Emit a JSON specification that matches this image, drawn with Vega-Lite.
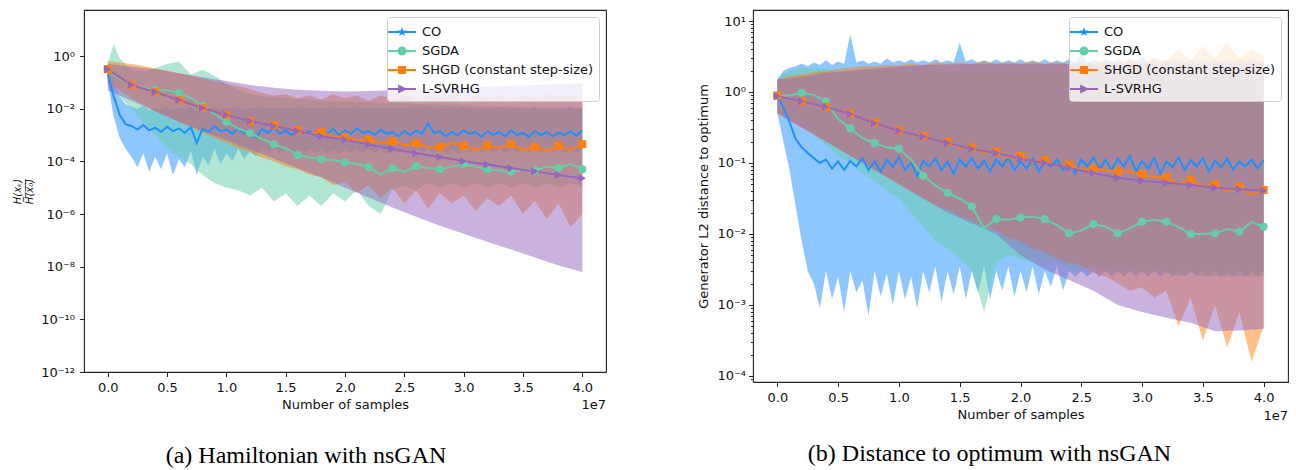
{
"$schema": "https://vega.github.io/schema/vega-lite/v6.json",
"background": "white",
"padding": {"left": 12, "top": 4, "right": 0, "bottom": 0},
"spacing": 90,
"columns": 2,
"align": "none",
"resolve": {"scale": {"color": "independent", "x": "independent", "y": "independent"}},
"config": {
  "font": "DejaVu Sans",
  "view": {"stroke": "#222", "strokeWidth": 1.1},
  "axis": {"grid": false, "domain": false, "tickColor": "#222", "tickSize": 4.5, "tickWidth": 1, "labelFont": "DejaVu Sans", "labelFontSize": 13, "labelColor": "#111", "titleFont": "DejaVu Sans", "titleFontSize": 13, "titleFontWeight": "normal", "titleColor": "#111", "labelFlush": false, "labelOverlap": false},
  "title": {"font": "Liberation Serif", "fontSize": 24, "fontWeight": "normal", "color": "#000", "orient": "bottom", "anchor": "middle", "offset": 25, "baseline": "top"}
},
"datasets": {
"A": [
{"s":"CO","x":0,"y":0.2,"lo":0.1,"hi":0.4},
{"s":"CO","x":0.05,"y":0.03,"lo":0.005,"hi":0.1},
{"s":"CO","x":0.1,"y":0.006,"lo":0.0008,"hi":0.03},
{"s":"CO","x":0.15,"y":0.0026,"lo":0.0003,"hi":0.015},
{"s":"CO","x":0.2,"y":0.0022,"lo":0.00015,"hi":0.012},
{"s":"CO","x":0.25,"y":0.0016,"lo":6e-5,"hi":0.01},
{"s":"CO","x":0.3,"y":0.0024,"lo":0.0002,"hi":0.013},
{"s":"CO","x":0.35,"y":0.0015,"lo":4e-5,"hi":0.009},
{"s":"CO","x":0.4,"y":0.0019,"lo":0.00015,"hi":0.011},
{"s":"CO","x":0.45,"y":0.0013,"lo":5e-5,"hi":0.01},
{"s":"CO","x":0.5,"y":0.0021,"lo":0.0002,"hi":0.012},
{"s":"CO","x":0.55,"y":0.0014,"lo":3e-5,"hi":0.009},
{"s":"CO","x":0.6,"y":0.0018,"lo":0.00012,"hi":0.011},
{"s":"CO","x":0.65,"y":0.0012,"lo":6e-5,"hi":0.01},
{"s":"CO","x":0.7,"y":0.002,"lo":0.00025,"hi":0.012},
{"s":"CO","x":0.75,"y":0.0005,"lo":3e-5,"hi":0.008},
{"s":"CO","x":0.8,"y":0.0017,"lo":0.00015,"hi":0.011},
{"s":"CO","x":0.85,"y":0.0013,"lo":7e-5,"hi":0.01},
{"s":"CO","x":0.9,"y":0.0022,"lo":0.0003,"hi":0.012},
{"s":"CO","x":0.95,"y":0.0014,"lo":8e-5,"hi":0.009},
{"s":"CO","x":1,"y":0.0016,"lo":0.0002,"hi":0.011},
{"s":"CO","x":1.05,"y":0.0011,"lo":0.0001,"hi":0.01},
{"s":"CO","x":1.1,"y":0.0019,"lo":0.0003,"hi":0.012},
{"s":"CO","x":1.15,"y":0.0012,"lo":0.00012,"hi":0.009},
{"s":"CO","x":1.2,"y":0.0015,"lo":0.00025,"hi":0.011},
{"s":"CO","x":1.25,"y":0.0008,"lo":0.00015,"hi":0.01},
{"s":"CO","x":1.3,"y":0.0017,"lo":0.0003,"hi":0.012},
{"s":"CO","x":1.35,"y":0.0012,"lo":0.0002,"hi":0.01},
{"s":"CO","x":1.4,"y":0.002,"lo":0.0003,"hi":0.011},
{"s":"CO","x":1.45,"y":0.0011,"lo":0.0002,"hi":0.01},
{"s":"CO","x":1.5,"y":0.0015,"lo":0.0003,"hi":0.011},
{"s":"CO","x":1.55,"y":0.001,"lo":0.0002,"hi":0.01},
{"s":"CO","x":1.6,"y":0.0018,"lo":0.0003,"hi":0.012},
{"s":"CO","x":1.65,"y":0.0012,"lo":0.0002,"hi":0.01},
{"s":"CO","x":1.7,"y":0.0014,"lo":0.0003,"hi":0.011},
{"s":"CO","x":1.75,"y":0.0009,"lo":0.0002,"hi":0.01},
{"s":"CO","x":1.8,"y":0.0016,"lo":0.0003,"hi":0.011},
{"s":"CO","x":1.85,"y":0.0011,"lo":0.0002,"hi":0.01},
{"s":"CO","x":1.9,"y":0.0017,"lo":0.0003,"hi":0.012},
{"s":"CO","x":1.95,"y":0.001,"lo":0.0002,"hi":0.01},
{"s":"CO","x":2,"y":0.0015,"lo":0.0003,"hi":0.011},
{"s":"CO","x":2.05,"y":0.0011,"lo":0.0002,"hi":0.01},
{"s":"CO","x":2.1,"y":0.0018,"lo":0.0003,"hi":0.012},
{"s":"CO","x":2.15,"y":0.0012,"lo":0.0002,"hi":0.01},
{"s":"CO","x":2.2,"y":0.0014,"lo":0.0003,"hi":0.011},
{"s":"CO","x":2.25,"y":0.001,"lo":0.0002,"hi":0.01},
{"s":"CO","x":2.3,"y":0.0016,"lo":0.0003,"hi":0.011},
{"s":"CO","x":2.35,"y":0.0011,"lo":0.0002,"hi":0.01},
{"s":"CO","x":2.4,"y":0.0013,"lo":0.0003,"hi":0.011},
{"s":"CO","x":2.45,"y":0.0009,"lo":0.0002,"hi":0.01},
{"s":"CO","x":2.5,"y":0.0014,"lo":0.0003,"hi":0.011},
{"s":"CO","x":2.55,"y":0.001,"lo":0.0002,"hi":0.01},
{"s":"CO","x":2.6,"y":0.0015,"lo":0.0003,"hi":0.012},
{"s":"CO","x":2.65,"y":0.0011,"lo":0.0002,"hi":0.01},
{"s":"CO","x":2.7,"y":0.0028,"lo":0.0003,"hi":0.013},
{"s":"CO","x":2.75,"y":0.0012,"lo":0.0002,"hi":0.01},
{"s":"CO","x":2.8,"y":0.0014,"lo":0.0003,"hi":0.011},
{"s":"CO","x":2.85,"y":0.0009,"lo":0.0002,"hi":0.01},
{"s":"CO","x":2.9,"y":0.0013,"lo":0.0003,"hi":0.011},
{"s":"CO","x":2.95,"y":0.001,"lo":0.0002,"hi":0.01},
{"s":"CO","x":3,"y":0.0015,"lo":0.0003,"hi":0.012},
{"s":"CO","x":3.05,"y":0.0011,"lo":0.0002,"hi":0.01},
{"s":"CO","x":3.1,"y":0.0013,"lo":0.0003,"hi":0.011},
{"s":"CO","x":3.15,"y":0.00085,"lo":0.0002,"hi":0.01},
{"s":"CO","x":3.2,"y":0.0014,"lo":0.0003,"hi":0.011},
{"s":"CO","x":3.25,"y":0.001,"lo":0.0002,"hi":0.01},
{"s":"CO","x":3.3,"y":0.0013,"lo":0.0003,"hi":0.012},
{"s":"CO","x":3.35,"y":0.0009,"lo":0.0002,"hi":0.01},
{"s":"CO","x":3.4,"y":0.0015,"lo":0.0003,"hi":0.011},
{"s":"CO","x":3.45,"y":0.001,"lo":0.0002,"hi":0.01},
{"s":"CO","x":3.5,"y":0.0012,"lo":0.0003,"hi":0.011},
{"s":"CO","x":3.55,"y":0.00085,"lo":0.0002,"hi":0.01},
{"s":"CO","x":3.6,"y":0.0014,"lo":0.0003,"hi":0.012},
{"s":"CO","x":3.65,"y":0.001,"lo":0.0002,"hi":0.01},
{"s":"CO","x":3.7,"y":0.0013,"lo":0.0003,"hi":0.011},
{"s":"CO","x":3.75,"y":0.0009,"lo":0.0002,"hi":0.01},
{"s":"CO","x":3.8,"y":0.0012,"lo":0.0003,"hi":0.011},
{"s":"CO","x":3.85,"y":0.001,"lo":0.0002,"hi":0.01},
{"s":"CO","x":3.9,"y":0.0014,"lo":0.0003,"hi":0.012},
{"s":"CO","x":3.95,"y":0.00095,"lo":0.0002,"hi":0.01},
{"s":"CO","x":4,"y":0.0015,"lo":0.0003,"hi":0.011},
{"s":"SGDA","x":0,"y":0.316,"lo":0.2,"hi":0.5,"mk":1},
{"s":"SGDA","x":0.05,"y":0.2,"lo":0.06,"hi":3.0},
{"s":"SGDA","x":0.1,"y":0.141,"lo":0.03,"hi":0.8},
{"s":"SGDA","x":0.2,"y":0.0794,"lo":0.01,"hi":0.3,"mk":1},
{"s":"SGDA","x":0.3,"y":0.0631,"lo":0.003,"hi":0.25},
{"s":"SGDA","x":0.4,"y":0.0501,"lo":0.001,"hi":0.35,"mk":1},
{"s":"SGDA","x":0.5,"y":0.0501,"lo":0.0003,"hi":0.5},
{"s":"SGDA","x":0.6,"y":0.0398,"lo":0.00015,"hi":0.6,"mk":1},
{"s":"SGDA","x":0.7,"y":0.0251,"lo":8e-5,"hi":0.2},
{"s":"SGDA","x":0.8,"y":0.0126,"lo":3e-5,"hi":0.3,"mk":1},
{"s":"SGDA","x":0.9,"y":0.00631,"lo":1.5e-5,"hi":0.18},
{"s":"SGDA","x":1,"y":0.00316,"lo":1e-5,"hi":0.09,"mk":1},
{"s":"SGDA","x":1.1,"y":0.00178,"lo":8e-6,"hi":0.05},
{"s":"SGDA","x":1.2,"y":0.00117,"lo":5e-6,"hi":0.035,"mk":1},
{"s":"SGDA","x":1.3,"y":0.000708,"lo":1e-5,"hi":0.03},
{"s":"SGDA","x":1.4,"y":0.000447,"lo":3e-6,"hi":0.028,"mk":1},
{"s":"SGDA","x":1.5,"y":0.000316,"lo":6e-6,"hi":0.026},
{"s":"SGDA","x":1.6,"y":0.000174,"lo":2e-6,"hi":0.024,"mk":1},
{"s":"SGDA","x":1.7,"y":0.000141,"lo":5e-6,"hi":0.022},
{"s":"SGDA","x":1.8,"y":0.00012,"lo":2e-6,"hi":0.02,"mk":1},
{"s":"SGDA","x":1.9,"y":0.000112,"lo":6e-6,"hi":0.02},
{"s":"SGDA","x":2,"y":9.3e-5,"lo":3e-6,"hi":0.019,"mk":1},
{"s":"SGDA","x":2.1,"y":7.9e-5,"lo":8e-6,"hi":0.018},
{"s":"SGDA","x":2.2,"y":6.0e-5,"lo":2e-6,"hi":0.018,"mk":1},
{"s":"SGDA","x":2.3,"y":3.2e-5,"lo":1e-6,"hi":0.017},
{"s":"SGDA","x":2.4,"y":5.5e-5,"lo":8e-6,"hi":0.016,"mk":1},
{"s":"SGDA","x":2.5,"y":4.0e-5,"lo":1.2e-5,"hi":0.016},
{"s":"SGDA","x":2.6,"y":6.6e-5,"lo":8e-6,"hi":0.015,"mk":1},
{"s":"SGDA","x":2.7,"y":5.6e-5,"lo":1.5e-5,"hi":0.015},
{"s":"SGDA","x":2.8,"y":5.0e-5,"lo":1e-5,"hi":0.014,"mk":1},
{"s":"SGDA","x":2.9,"y":6.3e-5,"lo":1.5e-5,"hi":0.014},
{"s":"SGDA","x":3,"y":7.9e-5,"lo":1e-5,"hi":0.013,"mk":1},
{"s":"SGDA","x":3.1,"y":6.3e-5,"lo":1.5e-5,"hi":0.013},
{"s":"SGDA","x":3.2,"y":5.0e-5,"lo":1e-5,"hi":0.012,"mk":1},
{"s":"SGDA","x":3.3,"y":4.5e-5,"lo":1.5e-5,"hi":0.012},
{"s":"SGDA","x":3.4,"y":4.0e-5,"lo":1e-5,"hi":0.012,"mk":1},
{"s":"SGDA","x":3.5,"y":5.0e-5,"lo":1.5e-5,"hi":0.011},
{"s":"SGDA","x":3.6,"y":4.5e-5,"lo":1e-5,"hi":0.011,"mk":1},
{"s":"SGDA","x":3.7,"y":6.3e-5,"lo":1.5e-5,"hi":0.011},
{"s":"SGDA","x":3.8,"y":5.6e-5,"lo":1e-5,"hi":0.01,"mk":1},
{"s":"SGDA","x":3.9,"y":7.9e-5,"lo":1.5e-5,"hi":0.01},
{"s":"SGDA","x":4,"y":5.0e-5,"lo":1e-5,"hi":0.01,"mk":1},
{"s":"SHGD (constant step-size)","x":0,"y":0.316,"lo":0.1,"hi":0.631,"mk":1},
{"s":"SHGD (constant step-size)","x":0.1,"y":0.158,"lo":0.0501,"hi":0.562},
{"s":"SHGD (constant step-size)","x":0.2,"y":0.0794,"lo":0.0251,"hi":0.501,"mk":1},
{"s":"SHGD (constant step-size)","x":0.3,"y":0.0562,"lo":0.0141,"hi":0.417},
{"s":"SHGD (constant step-size)","x":0.4,"y":0.0427,"lo":0.00794,"hi":0.347,"mk":1},
{"s":"SHGD (constant step-size)","x":0.5,"y":0.0302,"lo":0.00501,"hi":0.282},
{"s":"SHGD (constant step-size)","x":0.6,"y":0.0214,"lo":0.00316,"hi":0.224,"mk":1},
{"s":"SHGD (constant step-size)","x":0.7,"y":0.0151,"lo":0.002,"hi":0.178},
{"s":"SHGD (constant step-size)","x":0.8,"y":0.0105,"lo":0.00126,"hi":0.141,"mk":1},
{"s":"SHGD (constant step-size)","x":0.9,"y":0.00794,"lo":0.000794,"hi":0.112},
{"s":"SHGD (constant step-size)","x":1,"y":0.00575,"lo":0.000501,"hi":0.0891,"mk":1},
{"s":"SHGD (constant step-size)","x":1.1,"y":0.00447,"lo":0.000316,"hi":0.0708},
{"s":"SHGD (constant step-size)","x":1.2,"y":0.00339,"lo":0.000224,"hi":0.0562,"mk":1},
{"s":"SHGD (constant step-size)","x":1.3,"y":0.00282,"lo":0.000141,"hi":0.0398},
{"s":"SHGD (constant step-size)","x":1.4,"y":0.0024,"lo":0.0001,"hi":0.0316,"mk":1},
{"s":"SHGD (constant step-size)","x":1.5,"y":0.00178,"lo":6.31e-5,"hi":0.0355},
{"s":"SHGD (constant step-size)","x":1.6,"y":0.00155,"lo":5.01e-5,"hi":0.0251,"mk":1},
{"s":"SHGD (constant step-size)","x":1.7,"y":0.00112,"lo":3.16e-5,"hi":0.0316},
{"s":"SHGD (constant step-size)","x":1.8,"y":0.00129,"lo":2.51e-5,"hi":0.0224,"mk":1},
{"s":"SHGD (constant step-size)","x":1.9,"y":0.00089,"lo":1.26e-5,"hi":0.0355},
{"s":"SHGD (constant step-size)","x":2,"y":0.00083,"lo":1.58e-5,"hi":0.0251,"mk":1},
{"s":"SHGD (constant step-size)","x":2.1,"y":0.00063,"lo":6.31e-6,"hi":0.0316},
{"s":"SHGD (constant step-size)","x":2.2,"y":0.00065,"lo":1.26e-5,"hi":0.02,"mk":1},
{"s":"SHGD (constant step-size)","x":2.3,"y":0.0005,"lo":3.98e-6,"hi":0.0316},
{"s":"SHGD (constant step-size)","x":2.4,"y":0.00059,"lo":1e-5,"hi":0.0251,"mk":1},
{"s":"SHGD (constant step-size)","x":2.5,"y":0.0004,"lo":2.51e-6,"hi":0.0355},
{"s":"SHGD (constant step-size)","x":2.6,"y":0.00049,"lo":7.94e-6,"hi":0.0224,"mk":1},
{"s":"SHGD (constant step-size)","x":2.7,"y":0.00035,"lo":1.58e-6,"hi":0.0316},
{"s":"SHGD (constant step-size)","x":2.8,"y":0.00035,"lo":6.31e-6,"hi":0.0251,"mk":1},
{"s":"SHGD (constant step-size)","x":2.9,"y":0.0005,"lo":2.51e-6,"hi":0.0355},
{"s":"SHGD (constant step-size)","x":3,"y":0.0004,"lo":5.01e-6,"hi":0.02,"mk":1},
{"s":"SHGD (constant step-size)","x":3.1,"y":0.00028,"lo":1.26e-6,"hi":0.0316},
{"s":"SHGD (constant step-size)","x":3.2,"y":0.0004,"lo":3.98e-6,"hi":0.0251,"mk":1},
{"s":"SHGD (constant step-size)","x":3.3,"y":0.00032,"lo":2e-6,"hi":0.0355},
{"s":"SHGD (constant step-size)","x":3.4,"y":0.00045,"lo":5.01e-6,"hi":0.0224,"mk":1},
{"s":"SHGD (constant step-size)","x":3.5,"y":0.00028,"lo":1e-6,"hi":0.0316},
{"s":"SHGD (constant step-size)","x":3.6,"y":0.00035,"lo":3.16e-6,"hi":0.0251,"mk":1},
{"s":"SHGD (constant step-size)","x":3.7,"y":0.00025,"lo":6.31e-7,"hi":0.0355},
{"s":"SHGD (constant step-size)","x":3.8,"y":0.0004,"lo":2.51e-6,"hi":0.0282,"mk":1},
{"s":"SHGD (constant step-size)","x":3.9,"y":0.00028,"lo":3.16e-7,"hi":0.0316},
{"s":"SHGD (constant step-size)","x":4,"y":0.00045,"lo":1e-6,"hi":0.0251,"mk":1},
{"s":"L-SVRHG","x":0,"y":0.316,"lo":0.0501,"hi":0.5,"mk":1},
{"s":"L-SVRHG","x":0.2,"y":0.0794,"lo":0.02,"hi":0.398,"mk":1},
{"s":"L-SVRHG","x":0.4,"y":0.0427,"lo":0.00794,"hi":0.316,"mk":1},
{"s":"L-SVRHG","x":0.6,"y":0.0214,"lo":0.00316,"hi":0.224,"mk":1},
{"s":"L-SVRHG","x":0.8,"y":0.0105,"lo":0.00141,"hi":0.158,"mk":1},
{"s":"L-SVRHG","x":1,"y":0.00575,"lo":0.000631,"hi":0.112,"mk":1},
{"s":"L-SVRHG","x":1.2,"y":0.00339,"lo":0.000282,"hi":0.0794,"mk":1},
{"s":"L-SVRHG","x":1.4,"y":0.00219,"lo":0.000126,"hi":0.0631,"mk":1},
{"s":"L-SVRHG","x":1.6,"y":0.00141,"lo":5.62e-5,"hi":0.0525,"mk":1},
{"s":"L-SVRHG","x":1.8,"y":0.00089,"lo":2.51e-5,"hi":0.0479,"mk":1},
{"s":"L-SVRHG","x":2,"y":0.00066,"lo":1e-5,"hi":0.0447,"mk":1},
{"s":"L-SVRHG","x":2.2,"y":0.000437,"lo":4.27e-6,"hi":0.0468,"mk":1},
{"s":"L-SVRHG","x":2.4,"y":0.000295,"lo":1.78e-6,"hi":0.0501,"mk":1},
{"s":"L-SVRHG","x":2.6,"y":0.000204,"lo":7.94e-7,"hi":0.0537,"mk":1},
{"s":"L-SVRHG","x":2.8,"y":0.000145,"lo":3.55e-7,"hi":0.0575,"mk":1},
{"s":"L-SVRHG","x":3,"y":0.000102,"lo":1.78e-7,"hi":0.0631,"mk":1},
{"s":"L-SVRHG","x":3.2,"y":7.6e-5,"lo":8.91e-8,"hi":0.0676,"mk":1},
{"s":"L-SVRHG","x":3.4,"y":5.5e-5,"lo":4.47e-8,"hi":0.0741,"mk":1},
{"s":"L-SVRHG","x":3.6,"y":4.2e-5,"lo":2.24e-8,"hi":0.0794,"mk":1},
{"s":"L-SVRHG","x":3.8,"y":3.0e-5,"lo":1.12e-8,"hi":0.0851,"mk":1},
{"s":"L-SVRHG","x":4,"y":2.3e-5,"lo":6.31e-9,"hi":0.0933,"mk":1}
],
"B": [
{"s":"CO","x":0,"y":0.891,"lo":0.5,"hi":1.5},
{"s":"CO","x":0.05,"y":0.603,"lo":0.2,"hi":2.0},
{"s":"CO","x":0.1,"y":0.38,"lo":0.08,"hi":2.2},
{"s":"CO","x":0.15,"y":0.219,"lo":0.025,"hi":2.3},
{"s":"CO","x":0.2,"y":0.166,"lo":0.008,"hi":2.5},
{"s":"CO","x":0.25,"y":0.138,"lo":0.003,"hi":2.3},
{"s":"CO","x":0.3,"y":0.117,"lo":0.002,"hi":2.6},
{"s":"CO","x":0.35,"y":0.1,"lo":0.0009,"hi":2.4},
{"s":"CO","x":0.4,"y":0.112,"lo":0.003,"hi":2.8},
{"s":"CO","x":0.45,"y":0.0832,"lo":0.0012,"hi":2.4},
{"s":"CO","x":0.5,"y":0.105,"lo":0.0025,"hi":2.7},
{"s":"CO","x":0.55,"y":0.0794,"lo":0.0008,"hi":2.5},
{"s":"CO","x":0.6,"y":0.107,"lo":0.003,"hi":6.5},
{"s":"CO","x":0.65,"y":0.0891,"lo":0.0015,"hi":2.6},
{"s":"CO","x":0.7,"y":0.117,"lo":0.0022,"hi":2.8},
{"s":"CO","x":0.75,"y":0.0794,"lo":0.0007,"hi":2.5},
{"s":"CO","x":0.8,"y":0.105,"lo":0.003,"hi":2.7},
{"s":"CO","x":0.85,"y":0.0759,"lo":0.0013,"hi":2.5},
{"s":"CO","x":0.9,"y":0.11,"lo":0.0028,"hi":3.0},
{"s":"CO","x":0.95,"y":0.0891,"lo":0.001,"hi":2.6},
{"s":"CO","x":1,"y":0.12,"lo":0.003,"hi":2.8},
{"s":"CO","x":1.05,"y":0.0794,"lo":0.0012,"hi":2.6},
{"s":"CO","x":1.1,"y":0.1,"lo":0.0025,"hi":2.9},
{"s":"CO","x":1.15,"y":0.0661,"lo":0.0009,"hi":2.6},
{"s":"CO","x":1.2,"y":0.107,"lo":0.003,"hi":2.8},
{"s":"CO","x":1.25,"y":0.0891,"lo":0.0015,"hi":2.6},
{"s":"CO","x":1.3,"y":0.115,"lo":0.0035,"hi":2.9},
{"s":"CO","x":1.35,"y":0.0794,"lo":0.0011,"hi":2.6},
{"s":"CO","x":1.4,"y":0.105,"lo":0.003,"hi":2.8},
{"s":"CO","x":1.45,"y":0.0708,"lo":0.0014,"hi":2.6},
{"s":"CO","x":1.5,"y":0.112,"lo":0.0035,"hi":5.0},
{"s":"CO","x":1.55,"y":0.0891,"lo":0.0012,"hi":2.7},
{"s":"CO","x":1.6,"y":0.117,"lo":0.003,"hi":2.9},
{"s":"CO","x":1.65,"y":0.0832,"lo":0.0015,"hi":2.6},
{"s":"CO","x":1.7,"y":0.107,"lo":0.0035,"hi":2.8},
{"s":"CO","x":1.75,"y":0.0759,"lo":0.0012,"hi":2.6},
{"s":"CO","x":1.8,"y":0.112,"lo":0.003,"hi":2.9},
{"s":"CO","x":1.85,"y":0.0891,"lo":0.0016,"hi":2.6},
{"s":"CO","x":1.9,"y":0.12,"lo":0.0035,"hi":2.8},
{"s":"CO","x":1.95,"y":0.0794,"lo":0.0013,"hi":2.6},
{"s":"CO","x":2,"y":0.105,"lo":0.003,"hi":2.9},
{"s":"CO","x":2.05,"y":0.0832,"lo":0.0015,"hi":2.6},
{"s":"CO","x":2.1,"y":0.115,"lo":0.0035,"hi":2.8},
{"s":"CO","x":2.15,"y":0.0759,"lo":0.0014,"hi":2.6},
{"s":"CO","x":2.2,"y":0.107,"lo":0.003,"hi":2.9},
{"s":"CO","x":2.25,"y":0.0891,"lo":0.0018,"hi":2.6},
{"s":"CO","x":2.3,"y":0.112,"lo":0.0035,"hi":2.8},
{"s":"CO","x":2.35,"y":0.0794,"lo":0.0016,"hi":2.6},
{"s":"CO","x":2.4,"y":0.107,"lo":0.003,"hi":2.9},
{"s":"CO","x":2.45,"y":0.0708,"lo":0.0025,"hi":2.6},
{"s":"CO","x":2.5,"y":0.112,"lo":0.003,"hi":3.5},
{"s":"CO","x":2.55,"y":0.0891,"lo":0.0025,"hi":2.6},
{"s":"CO","x":2.6,"y":0.12,"lo":0.003,"hi":2.9},
{"s":"CO","x":2.65,"y":0.0832,"lo":0.0025,"hi":2.6},
{"s":"CO","x":2.7,"y":0.11,"lo":0.003,"hi":2.9},
{"s":"CO","x":2.75,"y":0.0794,"lo":0.0025,"hi":2.6},
{"s":"CO","x":2.8,"y":0.115,"lo":0.003,"hi":2.9},
{"s":"CO","x":2.85,"y":0.0891,"lo":0.0025,"hi":2.6},
{"s":"CO","x":2.9,"y":0.126,"lo":0.003,"hi":2.9},
{"s":"CO","x":2.95,"y":0.0759,"lo":0.0025,"hi":2.6},
{"s":"CO","x":3,"y":0.107,"lo":0.003,"hi":3.2},
{"s":"CO","x":3.05,"y":0.0832,"lo":0.0025,"hi":2.6},
{"s":"CO","x":3.1,"y":0.117,"lo":0.003,"hi":2.9},
{"s":"CO","x":3.15,"y":0.0708,"lo":0.0025,"hi":2.6},
{"s":"CO","x":3.2,"y":0.105,"lo":0.003,"hi":2.9},
{"s":"CO","x":3.25,"y":0.0871,"lo":0.0025,"hi":2.6},
{"s":"CO","x":3.3,"y":0.12,"lo":0.003,"hi":2.9},
{"s":"CO","x":3.35,"y":0.0794,"lo":0.0025,"hi":2.6},
{"s":"CO","x":3.4,"y":0.11,"lo":0.003,"hi":2.9},
{"s":"CO","x":3.45,"y":0.0891,"lo":0.0025,"hi":2.6},
{"s":"CO","x":3.5,"y":0.117,"lo":0.003,"hi":2.9},
{"s":"CO","x":3.55,"y":0.0759,"lo":0.0025,"hi":2.6},
{"s":"CO","x":3.6,"y":0.107,"lo":0.003,"hi":2.9},
{"s":"CO","x":3.65,"y":0.0871,"lo":0.0025,"hi":2.6},
{"s":"CO","x":3.7,"y":0.115,"lo":0.003,"hi":2.9},
{"s":"CO","x":3.75,"y":0.0794,"lo":0.0025,"hi":2.6},
{"s":"CO","x":3.8,"y":0.105,"lo":0.003,"hi":2.9},
{"s":"CO","x":3.85,"y":0.0891,"lo":0.0025,"hi":2.6},
{"s":"CO","x":3.9,"y":0.112,"lo":0.003,"hi":2.9},
{"s":"CO","x":3.95,"y":0.0832,"lo":0.0025,"hi":2.6},
{"s":"CO","x":4,"y":0.11,"lo":0.003,"hi":2.8},
{"s":"SGDA","x":0,"y":0.891,"lo":0.5,"hi":1.6,"mk":1},
{"s":"SGDA","x":0.1,"y":0.891,"lo":0.447,"hi":2.0},
{"s":"SGDA","x":0.2,"y":0.977,"lo":0.355,"hi":2.2,"mk":1},
{"s":"SGDA","x":0.3,"y":0.912,"lo":0.251,"hi":2.2},
{"s":"SGDA","x":0.4,"y":0.741,"lo":0.178,"hi":2.1,"mk":1},
{"s":"SGDA","x":0.5,"y":0.417,"lo":0.126,"hi":2.0},
{"s":"SGDA","x":0.6,"y":0.309,"lo":0.1,"hi":2.0,"mk":1},
{"s":"SGDA","x":0.7,"y":0.224,"lo":0.0708,"hi":2.0},
{"s":"SGDA","x":0.8,"y":0.191,"lo":0.0562,"hi":2.0,"mk":1},
{"s":"SGDA","x":0.9,"y":0.166,"lo":0.0398,"hi":2.0},
{"s":"SGDA","x":1,"y":0.158,"lo":0.0316,"hi":2.0,"mk":1},
{"s":"SGDA","x":1.1,"y":0.112,"lo":0.02,"hi":2.0},
{"s":"SGDA","x":1.2,"y":0.0661,"lo":0.0126,"hi":2.0,"mk":1},
{"s":"SGDA","x":1.3,"y":0.0479,"lo":0.00794,"hi":2.0},
{"s":"SGDA","x":1.4,"y":0.038,"lo":0.00631,"hi":2.0,"mk":1},
{"s":"SGDA","x":1.5,"y":0.0316,"lo":0.00447,"hi":2.0},
{"s":"SGDA","x":1.6,"y":0.0245,"lo":0.00316,"hi":2.0,"mk":1},
{"s":"SGDA","x":1.7,"y":0.012,"lo":0.000794,"hi":2.0},
{"s":"SGDA","x":1.8,"y":0.0162,"lo":0.00398,"hi":2.0,"mk":1},
{"s":"SGDA","x":1.9,"y":0.0158,"lo":0.00501,"hi":2.0},
{"s":"SGDA","x":2,"y":0.017,"lo":0.00447,"hi":2.0,"mk":1},
{"s":"SGDA","x":2.1,"y":0.0174,"lo":0.00398,"hi":2.0},
{"s":"SGDA","x":2.2,"y":0.0162,"lo":0.00355,"hi":2.0,"mk":1},
{"s":"SGDA","x":2.3,"y":0.0132,"lo":0.00398,"hi":2.0},
{"s":"SGDA","x":2.4,"y":0.0102,"lo":0.00316,"hi":2.0,"mk":1},
{"s":"SGDA","x":2.5,"y":0.0112,"lo":0.00316,"hi":2.0},
{"s":"SGDA","x":2.6,"y":0.0138,"lo":0.00355,"hi":2.0,"mk":1},
{"s":"SGDA","x":2.7,"y":0.0126,"lo":0.00316,"hi":2.0},
{"s":"SGDA","x":2.8,"y":0.0102,"lo":0.00282,"hi":2.0,"mk":1},
{"s":"SGDA","x":2.9,"y":0.012,"lo":0.00316,"hi":2.0},
{"s":"SGDA","x":3,"y":0.0148,"lo":0.00282,"hi":2.0,"mk":1},
{"s":"SGDA","x":3.1,"y":0.0158,"lo":0.00316,"hi":2.0},
{"s":"SGDA","x":3.2,"y":0.0148,"lo":0.00282,"hi":2.0,"mk":1},
{"s":"SGDA","x":3.3,"y":0.0126,"lo":0.00251,"hi":2.0},
{"s":"SGDA","x":3.4,"y":0.01,"lo":0.00282,"hi":2.0,"mk":1},
{"s":"SGDA","x":3.5,"y":0.01,"lo":0.00251,"hi":2.0},
{"s":"SGDA","x":3.6,"y":0.0102,"lo":0.00251,"hi":2.0,"mk":1},
{"s":"SGDA","x":3.7,"y":0.0117,"lo":0.00251,"hi":2.0},
{"s":"SGDA","x":3.8,"y":0.0107,"lo":0.00251,"hi":2.0,"mk":1},
{"s":"SGDA","x":3.9,"y":0.0148,"lo":0.00251,"hi":2.0},
{"s":"SGDA","x":4,"y":0.0126,"lo":0.00251,"hi":2.0,"mk":1},
{"s":"SHGD (constant step-size)","x":0,"y":0.891,"lo":0.5,"hi":1.5,"mk":1},
{"s":"SHGD (constant step-size)","x":0.1,"y":0.794,"lo":0.398,"hi":1.7},
{"s":"SHGD (constant step-size)","x":0.2,"y":0.741,"lo":0.316,"hi":1.8,"mk":1},
{"s":"SHGD (constant step-size)","x":0.3,"y":0.676,"lo":0.251,"hi":1.9},
{"s":"SHGD (constant step-size)","x":0.4,"y":0.617,"lo":0.2,"hi":2.0,"mk":1},
{"s":"SHGD (constant step-size)","x":0.5,"y":0.55,"lo":0.158,"hi":2.1},
{"s":"SHGD (constant step-size)","x":0.6,"y":0.501,"lo":0.126,"hi":2.2,"mk":1},
{"s":"SHGD (constant step-size)","x":0.7,"y":0.417,"lo":0.1,"hi":2.3},
{"s":"SHGD (constant step-size)","x":0.8,"y":0.372,"lo":0.0794,"hi":2.3,"mk":1},
{"s":"SHGD (constant step-size)","x":0.9,"y":0.316,"lo":0.0631,"hi":2.4},
{"s":"SHGD (constant step-size)","x":1,"y":0.288,"lo":0.0501,"hi":2.4,"mk":1},
{"s":"SHGD (constant step-size)","x":1.1,"y":0.251,"lo":0.0398,"hi":2.5},
{"s":"SHGD (constant step-size)","x":1.2,"y":0.24,"lo":0.0316,"hi":2.4,"mk":1},
{"s":"SHGD (constant step-size)","x":1.3,"y":0.209,"lo":0.0251,"hi":2.6},
{"s":"SHGD (constant step-size)","x":1.4,"y":0.2,"lo":0.0224,"hi":2.5,"mk":1},
{"s":"SHGD (constant step-size)","x":1.5,"y":0.166,"lo":0.0178,"hi":2.6},
{"s":"SHGD (constant step-size)","x":1.6,"y":0.166,"lo":0.0158,"hi":2.5,"mk":1},
{"s":"SHGD (constant step-size)","x":1.7,"y":0.141,"lo":0.0126,"hi":2.7},
{"s":"SHGD (constant step-size)","x":1.8,"y":0.145,"lo":0.0112,"hi":2.5,"mk":1},
{"s":"SHGD (constant step-size)","x":1.9,"y":0.12,"lo":0.00891,"hi":2.6},
{"s":"SHGD (constant step-size)","x":2,"y":0.126,"lo":0.00794,"hi":2.5,"mk":1},
{"s":"SHGD (constant step-size)","x":2.1,"y":0.105,"lo":0.00631,"hi":2.7},
{"s":"SHGD (constant step-size)","x":2.2,"y":0.11,"lo":0.00562,"hi":2.5,"mk":1},
{"s":"SHGD (constant step-size)","x":2.3,"y":0.0891,"lo":0.00447,"hi":2.6},
{"s":"SHGD (constant step-size)","x":2.4,"y":0.0955,"lo":0.00398,"hi":2.5,"mk":1},
{"s":"SHGD (constant step-size)","x":2.5,"y":0.0794,"lo":0.00355,"hi":2.7},
{"s":"SHGD (constant step-size)","x":2.6,"y":0.0832,"lo":0.00282,"hi":2.5,"mk":1},
{"s":"SHGD (constant step-size)","x":2.7,"y":0.0794,"lo":0.00251,"hi":2.8},
{"s":"SHGD (constant step-size)","x":2.8,"y":0.0759,"lo":0.002,"hi":2.6,"mk":1},
{"s":"SHGD (constant step-size)","x":2.9,"y":0.0759,"lo":0.00158,"hi":2.9},
{"s":"SHGD (constant step-size)","x":3,"y":0.0692,"lo":0.00178,"hi":2.6,"mk":1},
{"s":"SHGD (constant step-size)","x":3.1,"y":0.0631,"lo":0.00126,"hi":3.0},
{"s":"SHGD (constant step-size)","x":3.2,"y":0.0631,"lo":0.00158,"hi":2.7,"mk":1},
{"s":"SHGD (constant step-size)","x":3.3,"y":0.0501,"lo":0.000501,"hi":4.0},
{"s":"SHGD (constant step-size)","x":3.4,"y":0.0575,"lo":0.00126,"hi":2.8,"mk":1},
{"s":"SHGD (constant step-size)","x":3.5,"y":0.0468,"lo":0.000316,"hi":4.5},
{"s":"SHGD (constant step-size)","x":3.6,"y":0.0501,"lo":0.001,"hi":3.0,"mk":1},
{"s":"SHGD (constant step-size)","x":3.7,"y":0.0398,"lo":0.000251,"hi":5.0},
{"s":"SHGD (constant step-size)","x":3.8,"y":0.0468,"lo":0.000794,"hi":3.0,"mk":1},
{"s":"SHGD (constant step-size)","x":3.9,"y":0.0355,"lo":0.000158,"hi":4.0},
{"s":"SHGD (constant step-size)","x":4,"y":0.0417,"lo":0.000501,"hi":3.2,"mk":1},
{"s":"L-SVRHG","x":0,"y":0.871,"lo":0.5,"hi":1.5,"mk":1},
{"s":"L-SVRHG","x":0.2,"y":0.741,"lo":0.316,"hi":1.66,"mk":1},
{"s":"L-SVRHG","x":0.4,"y":0.617,"lo":0.2,"hi":1.86,"mk":1},
{"s":"L-SVRHG","x":0.6,"y":0.49,"lo":0.126,"hi":2.0,"mk":1},
{"s":"L-SVRHG","x":0.8,"y":0.363,"lo":0.0794,"hi":2.14,"mk":1},
{"s":"L-SVRHG","x":1,"y":0.282,"lo":0.0501,"hi":2.29,"mk":1},
{"s":"L-SVRHG","x":1.2,"y":0.234,"lo":0.0316,"hi":2.4,"mk":1},
{"s":"L-SVRHG","x":1.4,"y":0.191,"lo":0.02,"hi":2.45,"mk":1},
{"s":"L-SVRHG","x":1.6,"y":0.158,"lo":0.0141,"hi":2.5,"mk":1},
{"s":"L-SVRHG","x":1.8,"y":0.138,"lo":0.01,"hi":2.5,"mk":1},
{"s":"L-SVRHG","x":2,"y":0.115,"lo":0.00501,"hi":2.5,"mk":1},
{"s":"L-SVRHG","x":2.2,"y":0.1,"lo":0.00316,"hi":2.5,"mk":1},
{"s":"L-SVRHG","x":2.4,"y":0.0851,"lo":0.00224,"hi":2.5,"mk":1},
{"s":"L-SVRHG","x":2.6,"y":0.0724,"lo":0.00158,"hi":2.5,"mk":1},
{"s":"L-SVRHG","x":2.8,"y":0.0617,"lo":0.001,"hi":2.5,"mk":1},
{"s":"L-SVRHG","x":3,"y":0.0562,"lo":0.000794,"hi":2.5,"mk":1},
{"s":"L-SVRHG","x":3.2,"y":0.0525,"lo":0.000661,"hi":2.5,"mk":1},
{"s":"L-SVRHG","x":3.4,"y":0.049,"lo":0.000562,"hi":2.5,"mk":1},
{"s":"L-SVRHG","x":3.6,"y":0.0447,"lo":0.000427,"hi":2.5,"mk":1},
{"s":"L-SVRHG","x":3.8,"y":0.0427,"lo":0.000437,"hi":2.5,"mk":1},
{"s":"L-SVRHG","x":4,"y":0.0407,"lo":0.000457,"hi":2.5,"mk":1}
]
},
"concat": [
{
  "width": 522, "height": 362,
  "title": {"text": "(a) Hamiltonian with nsGAN", "dx": -39, "offset": 32},
  "data": {"name": "A"},
  "layer": [
    {"mark": {"type": "area", "opacity": 0.5, "clip": true},
     "encoding": {
       "x": {"field": "x", "type": "quantitative", "title": "Number of samples", "scale": {"domain": [-0.2, 4.2], "nice": false, "zero": false}, "axis": {"values": [0,0.5,1,1.5,2,2.5,3,3.5,4], "format": ".1f", "labelPadding": 5, "titlePadding": 4}},
       "y": {"field": "lo", "type": "quantitative", "title": ["H(x\u2096)", "H\u0305(\u0305x\u0305\u2080\u0305)\u0305"], "scale": {"type": "log", "domain": [1e-12, 56], "nice": false}, "axis": {"values": [1e-12,1e-10,1e-8,1e-6,1e-4,1e-2,1], "labelExpr": "'10' + replace(replace(replace(replace(replace(replace(replace(replace(replace(replace(replace('' + round(log(datum.value)/LN10),'-','\u207b'),'0','\u2070'),'1','\u00b9'),'2','\u00b2'),'3','\u00b3'),'4','\u2074'),'5','\u2075'),'6','\u2076'),'7','\u2077'),'8','\u2078'),'9','\u2079')", "labelPadding": 5, "titlePadding": 6, "titleFontSize": 10, "titleFontStyle": "italic"}},
       "y2": {"field": "hi"},
       "color": {"field": "s", "type": "nominal", "scale": {"domain": ["CO","SGDA","SHGD (constant step-size)","L-SVRHG"], "range": ["#1e90ff","#66cdaa","#ff7f0e","#9467bd"]},
         "legend": {"title": null, "orient": "top-right", "offset": 7, "padding": 5, "labelFont": "DejaVu Sans", "labelFontSize": 13, "labelColor": "#111", "labelOffset": 10, "labelLimit": 400, "symbolSize": 400, "symbolStrokeWidth": 0, "symbolOpacity": 1, "rowPadding": 2, "fillColor": "rgba(255,255,255,0.8)", "strokeColor": "#cccccc", "cornerRadius": 3,
         "encode": {"symbols": {"update": {"opacity": {"value": 1}, "shape": {"signal": "datum.value === 'CO' ? 'M-1.4,-0.1H1.4V0.1H-1.4Z M0,-0.5L0.118,-0.162L0.476,-0.155L0.19,0.062L0.294,0.405L0,0.2L-0.294,0.405L-0.19,0.062L-0.476,-0.155L-0.118,-0.162Z' : datum.value === 'SGDA' ? 'M-1.4,-0.1H1.4V0.1H-1.4Z M0.45,0A0.45,0.45 0 1,1 -0.45,0A0.45,0.45 0 1,1 0.45,0Z' : datum.value === 'L-SVRHG' ? 'M-1.4,-0.1H1.4V0.1H-1.4Z M-0.38,-0.46L0.52,0L-0.38,0.46Z' : 'M-1.4,-0.1H1.4V0.1H-1.4Z M-0.4,-0.4H0.4V0.4H-0.4Z'"}}}}}}
     }},
    {"mark": {"type": "line", "strokeWidth": 2, "clip": true},
     "encoding": {
       "x": {"field": "x", "type": "quantitative", "title": "Number of samples"},
       "y": {"field": "y", "type": "quantitative", "title": ["H(x\u2096)", "H\u0305(\u0305x\u0305\u2080\u0305)\u0305"]},
       "color": {"field": "s", "type": "nominal", "legend": null}
     }},
    {"transform": [{"filter": "datum.mk === 1 && datum.s === 'SGDA'"}],
     "mark": {"type": "point", "filled": true, "opacity": 1, "size": 64, "shape": "circle", "clip": true},
     "encoding": {"x": {"field": "x", "type": "quantitative", "title": "Number of samples"}, "y": {"field": "y", "type": "quantitative", "title": ["H(x\u2096)", "H\u0305(\u0305x\u0305\u2080\u0305)\u0305"]}, "color": {"field": "s", "type": "nominal", "legend": null}}},
    {"transform": [{"filter": "datum.mk === 1 && datum.s === 'SHGD (constant step-size)'"}],
     "mark": {"type": "point", "filled": true, "opacity": 1, "size": 64, "shape": "square", "clip": true},
     "encoding": {"x": {"field": "x", "type": "quantitative", "title": "Number of samples"}, "y": {"field": "y", "type": "quantitative", "title": ["H(x\u2096)", "H\u0305(\u0305x\u0305\u2080\u0305)\u0305"]}, "color": {"field": "s", "type": "nominal", "legend": null}}},
    {"transform": [{"filter": "datum.mk === 1 && datum.s === 'L-SVRHG'"}],
     "mark": {"type": "point", "filled": true, "opacity": 1, "size": 70, "shape": "triangle-right", "clip": true},
     "encoding": {"x": {"field": "x", "type": "quantitative", "title": "Number of samples"}, "y": {"field": "y", "type": "quantitative", "title": ["H(x\u2096)", "H\u0305(\u0305x\u0305\u2080\u0305)\u0305"]}, "color": {"field": "s", "type": "nominal", "legend": null}}},
    {"data": {"values": [{"t": "1e7"}]},
     "mark": {"type": "text", "align": "right", "baseline": "top", "dy": 27, "fontSize": 13, "font": "DejaVu Sans", "fill": "#111"},
     "encoding": {"x": {"datum": 4.2, "type": "quantitative"}, "y": {"datum": 1e-12, "type": "quantitative"}, "text": {"field": "t"}}},
    {"data": {"values": [{"t": " "}]},
     "mark": {"type": "text", "align": "left", "baseline": "bottom", "dy": -1, "fontSize": 4, "fill": "#ffffff"},
     "encoding": {"x": {"datum": 0, "type": "quantitative"}, "y": {"datum": 56, "type": "quantitative"}, "text": {"field": "t"}}}
  ]
},
{
  "width": 535, "height": 372,
  "title": {"text": "(b) Distance to optimum with nsGAN", "dx": -31, "offset": 19},
  "data": {"name": "B"},
  "layer": [
    {"mark": {"type": "area", "opacity": 0.5, "clip": true},
     "encoding": {
       "x": {"field": "x", "type": "quantitative", "title": "Number of samples", "scale": {"domain": [-0.2, 4.2], "nice": false, "zero": false}, "axis": {"values": [0,0.5,1,1.5,2,2.5,3,3.5,4], "format": ".1f", "labelPadding": 5, "titlePadding": 4}},
       "y": {"field": "lo", "type": "quantitative", "title": "Generator L2 distance to optimum", "scale": {"type": "log", "domain": [8.2e-5, 14.3], "nice": false}, "axis": {"values": [9e-5,1e-4,2e-4,3e-4,4e-4,5e-4,6e-4,7e-4,8e-4,9e-4,1e-3,2e-3,3e-3,4e-3,5e-3,6e-3,7e-3,8e-3,9e-3,1e-2,2e-2,3e-2,4e-2,5e-2,6e-2,7e-2,8e-2,9e-2,0.1,0.2,0.3,0.4,0.5,0.6,0.7,0.8,0.9,1,2,3,4,5,6,7,8,9,10],
         "labelExpr": "abs(log(datum.value)/LN10 - round(log(datum.value)/LN10)) < 1e-6 ? '10' + replace(replace(replace(replace(replace(replace(replace(replace(replace(replace(replace('' + round(log(datum.value)/LN10),'-','\u207b'),'0','\u2070'),'1','\u00b9'),'2','\u00b2'),'3','\u00b3'),'4','\u2074'),'5','\u2075'),'6','\u2076'),'7','\u2077'),'8','\u2078'),'9','\u2079') : ''",
         "tickSize": {"condition": {"test": "abs(log(datum.value)/LN10 - round(log(datum.value)/LN10)) < 1e-6", "value": 4.5}, "value": 2.5},
         "labelPadding": 3, "titlePadding": 6}},
       "y2": {"field": "hi"},
       "color": {"field": "s", "type": "nominal", "scale": {"domain": ["CO","SGDA","SHGD (constant step-size)","L-SVRHG"], "range": ["#1e90ff","#66cdaa","#ff7f0e","#9467bd"]},
         "legend": {"title": null, "orient": "top-right", "offset": 7, "padding": 5, "labelFont": "DejaVu Sans", "labelFontSize": 13, "labelColor": "#111", "labelOffset": 10, "labelLimit": 400, "symbolSize": 400, "symbolStrokeWidth": 0, "symbolOpacity": 1, "rowPadding": 2, "fillColor": "rgba(255,255,255,0.8)", "strokeColor": "#cccccc", "cornerRadius": 3,
         "encode": {"symbols": {"update": {"opacity": {"value": 1}, "shape": {"signal": "datum.value === 'CO' ? 'M-1.4,-0.1H1.4V0.1H-1.4Z M0,-0.5L0.118,-0.162L0.476,-0.155L0.19,0.062L0.294,0.405L0,0.2L-0.294,0.405L-0.19,0.062L-0.476,-0.155L-0.118,-0.162Z' : datum.value === 'SGDA' ? 'M-1.4,-0.1H1.4V0.1H-1.4Z M0.45,0A0.45,0.45 0 1,1 -0.45,0A0.45,0.45 0 1,1 0.45,0Z' : datum.value === 'L-SVRHG' ? 'M-1.4,-0.1H1.4V0.1H-1.4Z M-0.38,-0.46L0.52,0L-0.38,0.46Z' : 'M-1.4,-0.1H1.4V0.1H-1.4Z M-0.4,-0.4H0.4V0.4H-0.4Z'"}}}}}}
     }},
    {"mark": {"type": "line", "strokeWidth": 2, "clip": true},
     "encoding": {
       "x": {"field": "x", "type": "quantitative", "title": "Number of samples"},
       "y": {"field": "y", "type": "quantitative", "title": "Generator L2 distance to optimum"},
       "color": {"field": "s", "type": "nominal", "legend": null}
     }},
    {"transform": [{"filter": "datum.mk === 1 && datum.s === 'SGDA'"}],
     "mark": {"type": "point", "filled": true, "opacity": 1, "size": 64, "shape": "circle", "clip": true},
     "encoding": {"x": {"field": "x", "type": "quantitative", "title": "Number of samples"}, "y": {"field": "y", "type": "quantitative", "title": "Generator L2 distance to optimum"}, "color": {"field": "s", "type": "nominal", "legend": null}}},
    {"transform": [{"filter": "datum.mk === 1 && datum.s === 'SHGD (constant step-size)'"}],
     "mark": {"type": "point", "filled": true, "opacity": 1, "size": 64, "shape": "square", "clip": true},
     "encoding": {"x": {"field": "x", "type": "quantitative", "title": "Number of samples"}, "y": {"field": "y", "type": "quantitative", "title": "Generator L2 distance to optimum"}, "color": {"field": "s", "type": "nominal", "legend": null}}},
    {"transform": [{"filter": "datum.mk === 1 && datum.s === 'L-SVRHG'"}],
     "mark": {"type": "point", "filled": true, "opacity": 1, "size": 70, "shape": "triangle-right", "clip": true},
     "encoding": {"x": {"field": "x", "type": "quantitative", "title": "Number of samples"}, "y": {"field": "y", "type": "quantitative", "title": "Generator L2 distance to optimum"}, "color": {"field": "s", "type": "nominal", "legend": null}}},
    {"data": {"values": [{"t": "1e7"}]},
     "mark": {"type": "text", "align": "right", "baseline": "top", "dy": 28, "fontSize": 13, "font": "DejaVu Sans", "fill": "#111"},
     "encoding": {"x": {"datum": 4.2, "type": "quantitative"}, "y": {"datum": 8.2e-5, "type": "quantitative"}, "text": {"field": "t"}}}
  ]
}
]
}
